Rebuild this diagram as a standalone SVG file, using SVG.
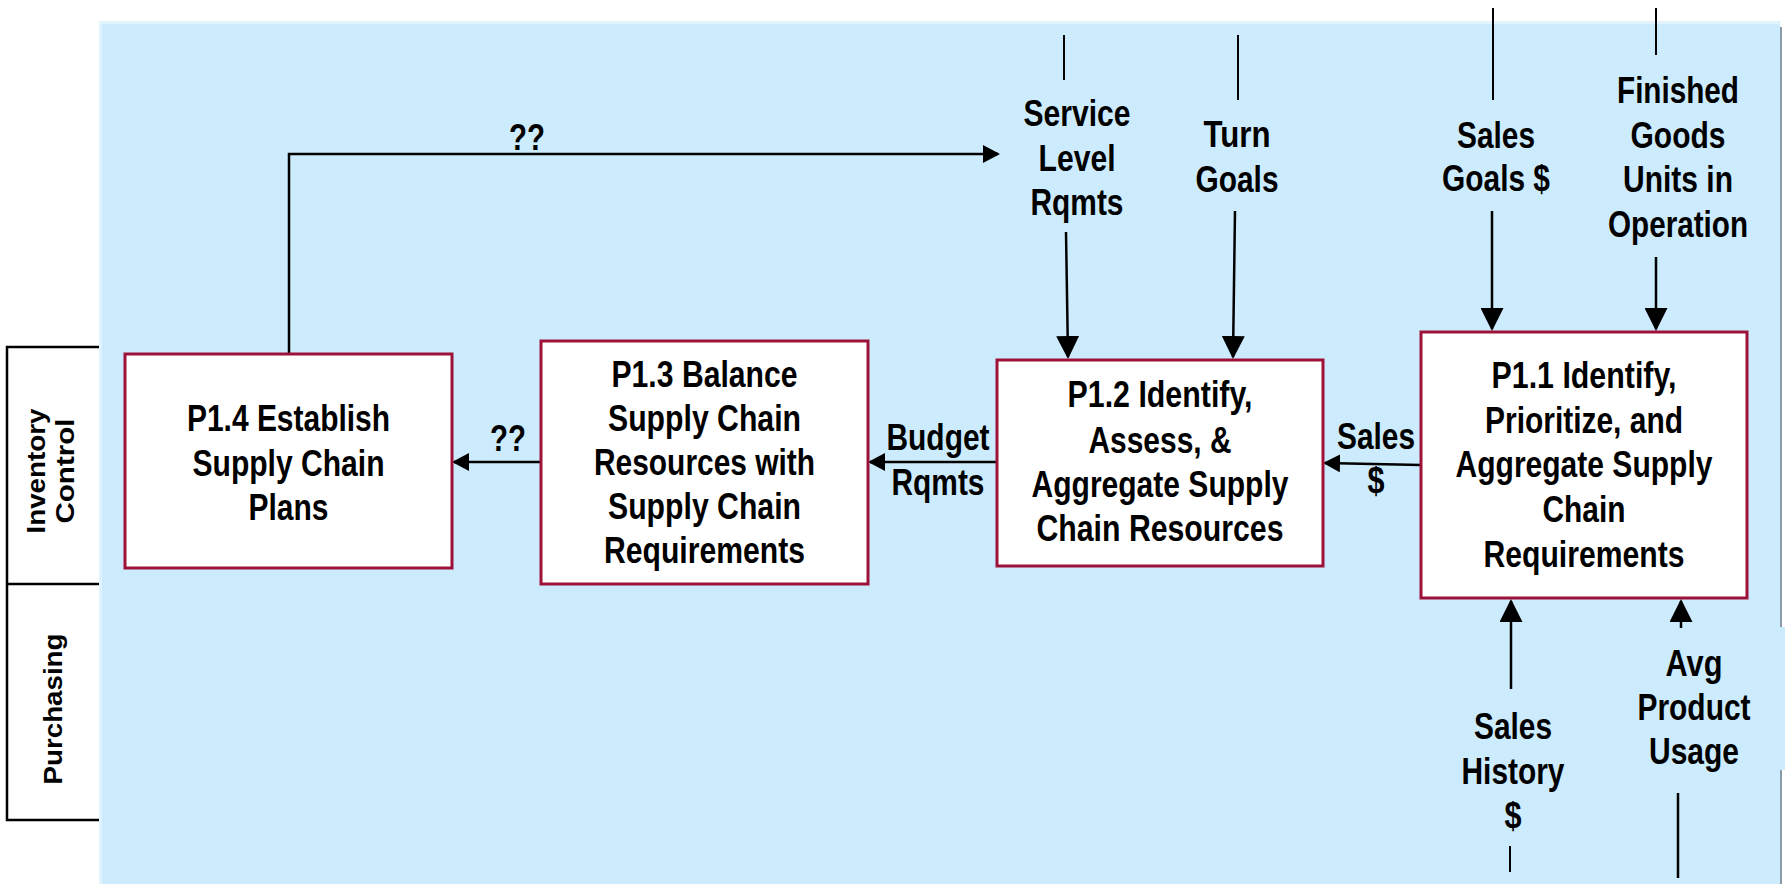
<svg xmlns="http://www.w3.org/2000/svg" width="1785" height="884" viewBox="0 0 1785 884">
  <defs>
    <style>
      .lbl { font-family: "Liberation Sans", Arial, sans-serif; font-weight: bold; font-size: 36px; fill: #000; text-anchor: middle; }
      .lane { font-family: "Liberation Sans", Arial, sans-serif; font-weight: bold; font-size: 26px; fill: #000; text-anchor: middle; }
      .box { fill: #fff; stroke: #9E1239; stroke-width: 3; }
      .wire { fill: none; stroke: #000; stroke-width: 2.5; }
      .thin { fill: none; stroke: #000; stroke-width: 2; }
    </style>
    <marker id="headBig" viewBox="0 0 23 23" refX="21" refY="11.5" markerWidth="23" markerHeight="23" markerUnits="userSpaceOnUse" orient="auto">
      <path d="M0,0 L23,11.5 L0,23 Z" fill="#000"/>
    </marker>
    <marker id="headSmall" viewBox="0 0 17 18" refX="15" refY="9" markerWidth="17" markerHeight="18" markerUnits="userSpaceOnUse" orient="auto">
      <path d="M0,0 L17,9 L0,18 Z" fill="#000"/>
    </marker>
  </defs>

  <!-- swimlane headers -->
  <g id="lanes">
    <rect x="7" y="347" width="100" height="473" fill="#fff" stroke="#000" stroke-width="2.5"/>
    <line x1="7" y1="584" x2="100" y2="584" stroke="#000" stroke-width="2.5"/>
  </g>

  <!-- process area -->
  <g id="area">
    <rect x="99" y="21" width="1681" height="863" fill="#CCEBFC"/>
    <path d="M100.5,884 V22.5 H1779" fill="none" stroke="#E1F3FD" stroke-width="3"/>
    <line x1="1781" y1="27" x2="1781" y2="884" stroke="#8A9AA8" stroke-width="2"/>
    <rect x="1700" y="627" width="85" height="143" fill="#CCEBFC"/>
  </g>

  <g id="lane-labels">
    <text class="lane" transform="translate(45,471) rotate(-90)" textLength="125" lengthAdjust="spacingAndGlyphs">Inventory</text>
    <text class="lane" transform="translate(74,471) rotate(-90)" textLength="105" lengthAdjust="spacingAndGlyphs">Control</text>
    <text class="lane" transform="translate(62,709) rotate(-90)" textLength="151" lengthAdjust="spacingAndGlyphs">Purchasing</text>
  </g>

  <!-- connectors -->
  <g id="connectors">
    <path class="wire" d="M289,354 V154 H998" marker-end="url(#headSmall)"/>
    <line class="wire" x1="541" y1="462" x2="454" y2="462" marker-end="url(#headSmall)"/>
    <line class="wire" x1="997" y1="462" x2="870" y2="462" marker-end="url(#headSmall)"/>
    <line class="wire" x1="1421" y1="465" x2="1325" y2="463" marker-end="url(#headSmall)"/>

    <line class="thin" x1="1064" y1="35" x2="1064" y2="80"/>
    <line class="wire" x1="1066" y1="232" x2="1068" y2="357" marker-end="url(#headBig)"/>
    <line class="thin" x1="1238" y1="35" x2="1238" y2="100"/>
    <line class="wire" x1="1235" y1="211" x2="1233" y2="357" marker-end="url(#headBig)"/>

    <line class="thin" x1="1493" y1="8" x2="1493" y2="100"/>
    <line class="wire" x1="1492" y1="211" x2="1492" y2="329" marker-end="url(#headBig)"/>
    <line class="thin" x1="1656" y1="8" x2="1656" y2="55"/>
    <line class="wire" x1="1656" y1="257" x2="1656" y2="329" marker-end="url(#headBig)"/>

    <line class="wire" x1="1511" y1="689" x2="1511" y2="601" marker-end="url(#headBig)"/>
    <line class="thin" x1="1510" y1="846" x2="1510" y2="872"/>
    <line class="wire" x1="1681" y1="628" x2="1681" y2="601" marker-end="url(#headBig)"/>
    <line class="wire" x1="1678" y1="793" x2="1678" y2="878"/>
  </g>

  <!-- flow labels (narrow bold face, set to fixed widths) -->
  <g id="flow-labels">
    <text class="lbl" x="527" y="150" textLength="36" lengthAdjust="spacingAndGlyphs">??</text>
    <text class="lbl" x="508" y="451" textLength="36" lengthAdjust="spacingAndGlyphs">??</text>
    <text class="lbl" x="938" y="450" textLength="103" lengthAdjust="spacingAndGlyphs">Budget</text>
    <text class="lbl" x="938" y="495" textLength="93" lengthAdjust="spacingAndGlyphs">Rqmts</text>
    <text class="lbl" x="1376" y="449" textLength="78" lengthAdjust="spacingAndGlyphs">Sales</text>
    <text class="lbl" x="1376" y="493" textLength="17" lengthAdjust="spacingAndGlyphs">$</text>
    <text class="lbl" x="1077" y="126" textLength="107" lengthAdjust="spacingAndGlyphs">Service</text>
    <text class="lbl" x="1077" y="171" textLength="77" lengthAdjust="spacingAndGlyphs">Level</text>
    <text class="lbl" x="1077" y="215" textLength="93" lengthAdjust="spacingAndGlyphs">Rqmts</text>
    <text class="lbl" x="1237" y="147" textLength="67" lengthAdjust="spacingAndGlyphs">Turn</text>
    <text class="lbl" x="1237" y="192" textLength="83" lengthAdjust="spacingAndGlyphs">Goals</text>
    <text class="lbl" x="1496" y="148" textLength="78" lengthAdjust="spacingAndGlyphs">Sales</text>
    <text class="lbl" x="1496" y="191" textLength="108" lengthAdjust="spacingAndGlyphs">Goals $</text>
    <text class="lbl" x="1678" y="103" textLength="122" lengthAdjust="spacingAndGlyphs">Finished</text>
    <text class="lbl" x="1678" y="148" textLength="95" lengthAdjust="spacingAndGlyphs">Goods</text>
    <text class="lbl" x="1678" y="192" textLength="110" lengthAdjust="spacingAndGlyphs">Units in</text>
    <text class="lbl" x="1678" y="237" textLength="140" lengthAdjust="spacingAndGlyphs">Operation</text>
    <text class="lbl" x="1513" y="739" textLength="78" lengthAdjust="spacingAndGlyphs">Sales</text>
    <text class="lbl" x="1513" y="784" textLength="103" lengthAdjust="spacingAndGlyphs">History</text>
    <text class="lbl" x="1513" y="828" textLength="17" lengthAdjust="spacingAndGlyphs">$</text>
    <text class="lbl" x="1694" y="676" textLength="57" lengthAdjust="spacingAndGlyphs">Avg</text>
    <text class="lbl" x="1694" y="720" textLength="113" lengthAdjust="spacingAndGlyphs">Product</text>
    <text class="lbl" x="1694" y="764" textLength="90" lengthAdjust="spacingAndGlyphs">Usage</text>
  </g>

  <!-- processes -->
  <g id="P1.4">
    <rect class="box" x="125" y="354" width="327" height="214"/>
    <text class="lbl" x="288.5" y="431" textLength="203" lengthAdjust="spacingAndGlyphs">P1.4 Establish</text>
    <text class="lbl" x="288.5" y="476" textLength="192" lengthAdjust="spacingAndGlyphs">Supply Chain</text>
    <text class="lbl" x="288.5" y="520" textLength="80" lengthAdjust="spacingAndGlyphs">Plans</text>
  </g>
  <g id="P1.3">
    <rect class="box" x="541" y="341" width="327" height="243"/>
    <text class="lbl" x="704.5" y="387" textLength="186" lengthAdjust="spacingAndGlyphs">P1.3 Balance</text>
    <text class="lbl" x="704.5" y="431" textLength="193" lengthAdjust="spacingAndGlyphs">Supply Chain</text>
    <text class="lbl" x="704.5" y="475" textLength="221" lengthAdjust="spacingAndGlyphs">Resources with</text>
    <text class="lbl" x="704.5" y="519" textLength="193" lengthAdjust="spacingAndGlyphs">Supply Chain</text>
    <text class="lbl" x="704.5" y="563" textLength="201" lengthAdjust="spacingAndGlyphs">Requirements</text>
  </g>
  <g id="P1.2">
    <rect class="box" x="997" y="360" width="326" height="206"/>
    <text class="lbl" x="1160" y="407" textLength="185" lengthAdjust="spacingAndGlyphs">P1.2 Identify,</text>
    <text class="lbl" x="1160" y="453" textLength="143" lengthAdjust="spacingAndGlyphs">Assess, &amp;</text>
    <text class="lbl" x="1160" y="497" textLength="257" lengthAdjust="spacingAndGlyphs">Aggregate Supply</text>
    <text class="lbl" x="1160" y="541" textLength="247" lengthAdjust="spacingAndGlyphs">Chain Resources</text>
  </g>
  <g id="P1.1">
    <rect class="box" x="1421" y="332" width="326" height="266"/>
    <text class="lbl" x="1584" y="388" textLength="185" lengthAdjust="spacingAndGlyphs">P1.1 Identify,</text>
    <text class="lbl" x="1584" y="433" textLength="198" lengthAdjust="spacingAndGlyphs">Prioritize, and</text>
    <text class="lbl" x="1584" y="477" textLength="257" lengthAdjust="spacingAndGlyphs">Aggregate Supply</text>
    <text class="lbl" x="1584" y="522" textLength="83" lengthAdjust="spacingAndGlyphs">Chain</text>
    <text class="lbl" x="1584" y="567" textLength="201" lengthAdjust="spacingAndGlyphs">Requirements</text>
  </g>
</svg>
